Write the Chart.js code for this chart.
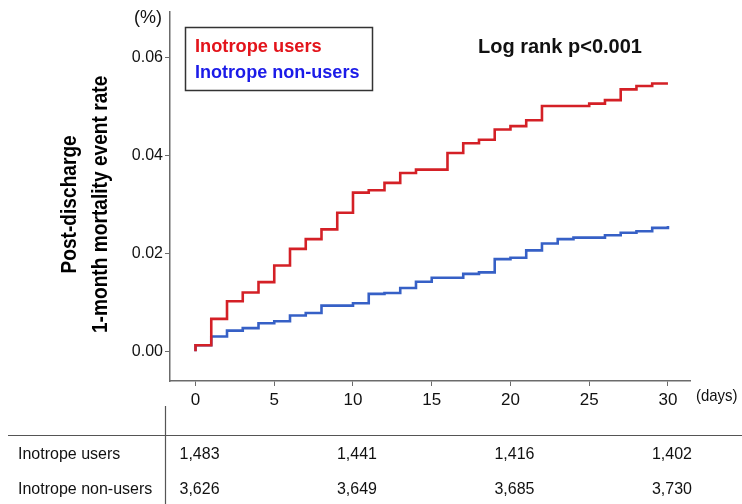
<!DOCTYPE html>
<html>
<head>
<meta charset="utf-8">
<script src="https://cdn.jsdelivr.net/npm/chart.js@4.4.0/dist/chart.umd.min.js"></script>
<style>
  html, body { margin:0; padding:0; background:#fff; }
  #wrap { width:742px; height:504px; position:relative; }
</style>
</head>
<body>
<div id="wrap"><canvas id="km"></canvas></div>
<script>
// KM-style cumulative event rates
const userDays    = [0, 0, 1, 2, 3, 4, 5, 6, 7, 8, 9, 10, 11, 12, 13, 14, 16, 17, 18, 19, 20, 21, 22, 25, 26, 27, 28, 29, 30];
const userRate    = [0, 0.0012, 0.0066, 0.0102, 0.0120, 0.0141, 0.0175, 0.0209, 0.0229, 0.0249, 0.0283, 0.0324, 0.0329, 0.0344, 0.0364, 0.0371, 0.0405, 0.0425, 0.0432, 0.0453, 0.0460, 0.0472, 0.0501, 0.0506, 0.0513, 0.0535, 0.0542, 0.0547, 0.0547];
const nonUserDays = [0, 0, 1, 2, 3, 4, 5, 6, 7, 8, 10, 11, 12, 13, 14, 15, 17, 18, 19, 20, 21, 22, 23, 24, 26, 27, 28, 29, 30];
const nonUserRate = [0, 0.0012, 0.0030, 0.0042, 0.0047, 0.0057, 0.0061, 0.0073, 0.0078, 0.0093, 0.0098, 0.0117, 0.0119, 0.0129, 0.0142, 0.0150, 0.0158, 0.0161, 0.0188, 0.0191, 0.0206, 0.0220, 0.0229, 0.0232, 0.0237, 0.0242, 0.0245, 0.0252, 0.0256];

const xTicks = [0, 5, 10, 15, 20, 25, 30];
const yTicks = [0, 0.02, 0.04, 0.06];

const groupNames = ['Inotrope users', 'Inotrope non-users'];
const yTitle = ['Post-discharge', '1-month mortality event rate'];
const riskDays = [0, 10, 20, 30];
const usersAtRisk    = ['1,483', '1,441', '1,416', '1,402'];
const nonUsersAtRisk = ['3,626', '3,649', '3,685', '3,730'];

const FONT = '"Liberation Sans Narrow", "Arial Narrow", "Liberation Sans", Arial, sans-serif';
const AXIS = '#6b6b6b';

function pts(xs, ys){ return xs.map((x, i) => ({ x: x, y: ys[i] })); }

// no narrow face installed, so squeeze text horizontally
function narrowText(ctx, txt, x, y, sx){
  ctx.save();
  ctx.translate(x, y);
  ctx.scale(sx, 1);
  ctx.fillText(txt, 0, 0);
  ctx.restore();
}

// legend box, p-value, axis title, units, at-risk table
const extras = {
  id: 'extras',
  afterDraw(chart){
    const ctx = chart.ctx;
    const xs = chart.scales.x;
    const ys = chart.scales.y;
    ctx.save();

    // y title, rotated
    ctx.fillStyle = '#000';
    ctx.font = 'bold 22px ' + FONT;
    ctx.textAlign = 'center';
    ctx.textBaseline = 'middle';
    const cy = (ys.getPixelForValue(0) + ys.getPixelForValue(0.06)) / 2;
    [70, 101].forEach((cx, i) => {
      ctx.save();
      ctx.translate(cx, cy);
      ctx.rotate(-Math.PI / 2);
      ctx.scale(0.87, 1);
      ctx.fillText(yTitle[i], 0, 0);
      ctx.restore();
    });

    // legend
    ctx.strokeStyle = '#333';
    ctx.lineWidth = 1.5;
    ctx.strokeRect(185.5, 27.5, 187, 63);
    ctx.font = 'bold 19px ' + FONT;
    ctx.textAlign = 'left';
    ctx.fillStyle = '#e3141b';
    narrowText(ctx, groupNames[0], 195, 47, 0.96);
    ctx.fillStyle = '#1b1be8';
    narrowText(ctx, groupNames[1], 195, 73, 0.95);

    // log rank
    ctx.fillStyle = '#111';
    ctx.font = 'bold 20px ' + FONT;
    ctx.fillText('Log rank p<0.001', 478, 47);

    // units
    ctx.font = '18px ' + FONT;
    ctx.textAlign = 'right';
    ctx.fillText('(%)', 162, 18);
    ctx.textAlign = 'left';
    ctx.font = '17px ' + FONT;
    narrowText(ctx, '(days)', 696, 396, 0.88);

    // table rules
    ctx.strokeStyle = '#555';
    ctx.lineWidth = 1.2;
    ctx.beginPath();
    ctx.moveTo(8, 435.5); ctx.lineTo(742, 435.5);
    ctx.moveTo(165.5, 406); ctx.lineTo(165.5, 504);
    ctx.stroke();

    ctx.font = '16px ' + FONT;
    ctx.fillStyle = '#111';
    ctx.textAlign = 'left';
    ctx.fillText(groupNames[0], 18, 455);
    ctx.fillText(groupNames[1], 18, 490);
    ctx.textAlign = 'center';
    riskDays.forEach((d, i) => {
      const px = xs.getPixelForValue(d) + 4;
      ctx.fillText(usersAtRisk[i], px, 455);
      ctx.fillText(nonUsersAtRisk[i], px, 490);
    });
    ctx.restore();
  }
};

new Chart(document.getElementById('km'), {
  type: 'line',
  data: {
    datasets: [
      {
        label: groupNames[0],
        data: pts(userDays, userRate),
        borderColor: '#d42026',
        borderWidth: 2.6,
        stepped: 'before',
        pointRadius: 0,
        fill: false
      },
      {
        label: groupNames[1],
        data: pts(nonUserDays, nonUserRate),
        borderColor: '#3660c6',
        borderWidth: 2.6,
        stepped: 'before',
        pointRadius: 0,
        fill: false
      }
    ]
  },
  options: {
    responsive: true,
    maintainAspectRatio: false,
    animation: false,
    layout: { padding: { left: 0, right: 52, top: 8, bottom: 93 } },
    plugins: { legend: { display: false }, tooltip: { enabled: false } },
    scales: {
      x: {
        type: 'linear',
        min: -1.62,
        max: 31.4,
        afterBuildTicks: s => { s.ticks = xTicks.map(v => ({ value: v })); },
        afterFit: s => { s.height = 30; },
        border: { color: AXIS, width: 1.5 },
        grid: { drawOnChartArea: false, drawTicks: true, tickLength: 5, color: AXIS },
        ticks: { color: '#111', font: { family: FONT, size: 17 }, padding: 4, maxRotation: 0 }
      },
      y: {
        type: 'linear',
        min: -0.0061,
        max: 0.0694,
        afterBuildTicks: s => { s.ticks = yTicks.map(v => ({ value: v })); },
        afterFit: s => { s.width = 170; },
        border: { color: AXIS, width: 1.5 },
        grid: { drawOnChartArea: false, drawTicks: true, tickLength: 5, color: AXIS },
        ticks: {
          color: '#111',
          font: { family: FONT, size: 16 },
          padding: 2,
          callback: v => v.toFixed(2)
        }
      }
    }
  },
  plugins: [extras]
});
</script>
</body>
</html>
